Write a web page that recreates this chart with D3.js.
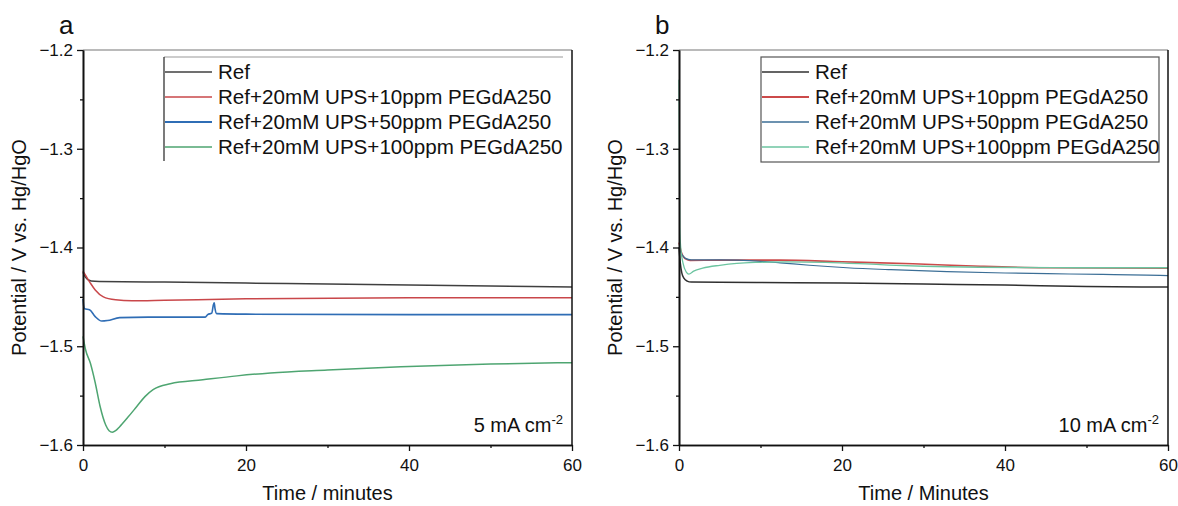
<!DOCTYPE html>
<html><head><meta charset="utf-8">
<script src="https://cdn.jsdelivr.net/npm/d3@7"></script>
<style>
html,body{margin:0;padding:0;background:#fff;}
svg text{font-family:"Liberation Sans",Arial,sans-serif;fill:#111;}
</style></head>
<body><svg id="chart" width="1178" height="506"></svg>
<script>
// ---------- data ----------
const seriesNames = ["Ref","Ref+20mM UPS+10ppm PEGdA250","Ref+20mM UPS+50ppm PEGdA250","Ref+20mM UPS+100ppm PEGdA250"];
const yTicks = [-1.6,-1.5,-1.4,-1.3,-1.2];
const xTicks = [0,20,40,60];

// panel a (5 mA cm-2): [time (min), potential (V)]
const aRef = [[0,-1.425],[0.3,-1.430],[1,-1.434],[2,-1.4345],[10,-1.435],[20,-1.436],[30,-1.437],[40,-1.438],[50,-1.439],[60,-1.440]];
const aUps10 = [[0,-1.424],[0.3,-1.428],[0.9,-1.436],[1.5,-1.443],[2.5,-1.450],[4,-1.453],[6,-1.454],[10,-1.4535],[20,-1.452],[40,-1.451],[60,-1.451]];
const aUps50 = [[0,-1.452],[0.1,-1.460],[0.2,-1.462],[0.8,-1.463],[1.5,-1.470],[2.3,-1.4745],[3,-1.474],[4.5,-1.471],[8,-1.4705],[15,-1.4705],[15.3,-1.468],[15.8,-1.4665],[16.0,-1.458],[16.1,-1.456],[16.2,-1.462],[16.4,-1.467],[20,-1.4675],[40,-1.468],[60,-1.468]];
const aUps100 = [[0,-1.490],[0.3,-1.503],[0.9,-1.517],[1.5,-1.537],[2.1,-1.561],[2.8,-1.580],[3.2,-1.5855],[3.6,-1.587],[4.0,-1.5855],[4.5,-1.5815],[5.5,-1.572],[6.6,-1.561],[7.6,-1.551],[8.6,-1.544],[10.7,-1.538],[14.7,-1.534],[18.9,-1.530],[23,-1.527],[30,-1.524],[39,-1.5207],[50,-1.518],[60,-1.5166]];

// panel b (10 mA cm-2)
const bRef = [[0,-1.400],[0.15,-1.415],[0.35,-1.426],[0.6,-1.431],[1,-1.434],[1.5,-1.435],[5,-1.4352],[14,-1.4356],[20,-1.436],[30,-1.437],[40,-1.438],[50,-1.4395],[60,-1.440]];
const bUps10 = [[0,-1.395],[0.3,-1.405],[0.7,-1.411],[1.35,-1.413],[5,-1.4128],[12.4,-1.4128],[20,-1.4145],[28.7,-1.4165],[37,-1.419],[45,-1.4205],[60,-1.421]];
const bUps50 = [[0,-1.400],[0.3,-1.406],[0.8,-1.411],[1.5,-1.4125],[5,-1.4125],[10,-1.414],[12.4,-1.4155],[16,-1.418],[20.6,-1.4205],[26,-1.4225],[32.9,-1.4245],[40,-1.4258],[45.2,-1.4265],[52,-1.4273],[57.4,-1.428],[60,-1.4285]];
const bUps100 = [[0,-1.230],[0.05,-1.300],[0.1,-1.380],[0.2,-1.399],[0.5,-1.416],[0.9,-1.425],[1.2,-1.427],[1.8,-1.424],[2.9,-1.421],[5,-1.418],[7.1,-1.416],[10,-1.415],[13.2,-1.4145],[18,-1.415],[24.7,-1.4174],[30,-1.419],[36.9,-1.420],[49,-1.4205],[60,-1.4205]];

const colorsA = ["#404040","#c9474a","#2f6db5","#4ea571"];
const colorsB = ["#303030","#cc4a4a","#3b6e96","#6cc4a0"];

// ---------- drawing ----------
const svg = d3.select("#chart");

function panel(opts){
  const {left,right,top,bottom,data,colors,widths,letter,xTitle,current,legend} = opts;
  const g = svg.append("g");
  const x = d3.scaleLinear().domain([0,60]).range([left,right]);
  const y = d3.scaleLinear().domain([-1.6,-1.2]).range([bottom,top]);

  // curves
  const line = d3.line().x(d=>x(d[0])).y(d=>y(d[1])).curve(d3.curveMonotoneX);
  data.forEach((s,i)=>{
    g.append("path").attr("d",line(s)).attr("fill","none")
      .attr("stroke",colors[i]).attr("stroke-width",widths[i]).attr("stroke-linejoin","round");
  });

  // frame top/right
  g.append("line").attr("x1",left).attr("x2",right).attr("y1",top).attr("y2",top).attr("stroke","#777").attr("stroke-width",1.2);
  g.append("line").attr("x1",right).attr("x2",right).attr("y1",top).attr("y2",bottom).attr("stroke","#111").attr("stroke-width",1.5);

  // y axis
  const ya = d3.axisLeft(y).tickValues(yTicks).tickSize(6).tickSizeOuter(0).tickPadding(4).tickFormat(d3.format(".1f"));
  const yg = g.append("g").attr("transform",`translate(${left},0)`).call(ya);
  const yMinor = d3.axisLeft(y).tickValues([-1.55,-1.45,-1.35,-1.25]).tickSize(3).tickSizeOuter(0).tickFormat("");
  const ym = g.append("g").attr("transform",`translate(${left},0)`).call(yMinor);
  // x axis
  const xa = d3.axisBottom(x).tickValues(xTicks).tickSize(6).tickSizeOuter(0).tickPadding(8).tickFormat(d3.format("d"));
  const xg = g.append("g").attr("transform",`translate(0,${bottom})`).call(xa);
  const xMinor = d3.axisBottom(x).tickValues([10,30,50]).tickSize(3).tickSizeOuter(0).tickFormat("");
  const xm = g.append("g").attr("transform",`translate(0,${bottom})`).call(xMinor);
  [yg,ym,xg,xm].forEach(a=>{
    a.select(".domain").attr("stroke","#111").attr("stroke-width",1.6);
    a.selectAll(".tick line").attr("stroke","#111").attr("stroke-width",1.3);
    a.selectAll(".tick text").attr("font-size",17).attr("fill","#111").style("font-family","Liberation Sans, Arial, sans-serif");
  });

  // titles
  g.append("text").attr("x",(left+right)/2).attr("y",500).attr("text-anchor","middle").attr("font-size",20).text(xTitle);
  g.append("text").attr("transform",`translate(${left-57},${(top+bottom)/2}) rotate(-90)`).attr("text-anchor","middle").attr("font-size",20).text("Potential / V vs. Hg/HgO");
  g.append("text").attr("x",left-24).attr("y",34).attr("font-size",26).text(letter);

  // current density label
  const ct = g.append("text").attr("x",right-9).attr("y",432).attr("text-anchor","end").attr("font-size",20);
  ct.append("tspan").text(current+" mA cm");
  ct.append("tspan").attr("dy",-8).attr("font-size",13).text("-2");

  // legend
  const L = legend;
  if(L.full){
    g.append("rect").attr("x",L.x).attr("y",L.y).attr("width",L.w).attr("height",L.h).attr("fill","none").attr("stroke","#555").attr("stroke-width",1.2);
  } else {
    g.append("line").attr("x1",L.x).attr("x2",L.x+L.w).attr("y1",L.y).attr("y2",L.y).attr("stroke","#999").attr("stroke-width",1.2);
    g.append("line").attr("x1",L.x).attr("x2",L.x).attr("y1",L.y).attr("y2",L.y+L.h).attr("stroke","#222").attr("stroke-width",1.2);
  }
  seriesNames.forEach((n,i)=>{
    const cy = L.y+15+i*25;
    g.append("line").attr("x1",L.x+1).attr("x2",L.x+48).attr("y1",cy).attr("y2",cy).attr("stroke",colors[i]).attr("stroke-width",widths[i]+0.2);
    g.append("text").attr("x",L.x+54).attr("y",cy+7).attr("font-size",20.6).text(n);
  });
}

panel({left:83,right:572,top:50,bottom:445,data:[aRef,aUps10,aUps50,aUps100],colors:colorsA,widths:[1.5,1.5,1.6,1.5],
  letter:"a",xTitle:"Time / minutes",current:"5",legend:{x:164,y:57,w:399,h:104,full:false}});
panel({left:679,right:1168,top:50,bottom:445,data:[bRef,bUps10,bUps50,bUps100],colors:colorsB,widths:[1.5,1.6,1.2,1.3],
  letter:"b",xTitle:"Time / Minutes",current:"10",legend:{x:761,y:57,w:398,h:105,full:true}});
</script></body></html>
